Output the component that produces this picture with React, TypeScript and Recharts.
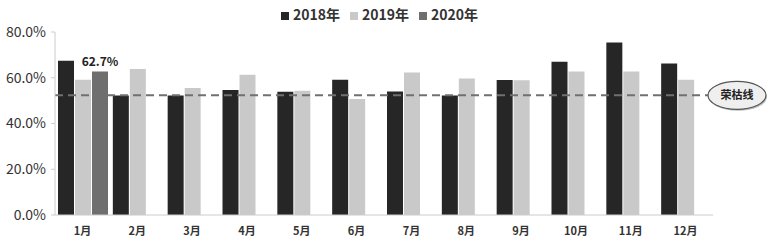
import React from 'react';
import {
  BarChart,
  Bar,
  XAxis,
  YAxis,
  Legend,
  ReferenceLine,
  LabelList,
} from 'recharts';

// 各月数值（%）
const months = ['1月', '2月', '3月', '4月', '5月', '6月', '7月', '8月', '9月', '10月', '11月', '12月'];
const y2018 = [67.4, 52.2, 52.2, 54.6, 53.9, 59.1, 54.0, 52.2, 59.0, 67.0, 75.4, 66.2];
const y2019 = [59.1, 63.8, 55.5, 61.3, 54.3, 50.7, 62.3, 59.7, 58.9, 62.7, 62.7, 59.1];
const y2020: (number | null)[] = [62.7, null, null, null, null, null, null, null, null, null, null, null];
const yTicks = [0, 20, 40, 60, 80];
const boomBust = 52.3;

const FONT = '"Noto Sans CJK SC", "Noto Sans", sans-serif';

const data = months.map((m, i) => ({
  month: m,
  a: y2018[i],
  b: y2019[i],
  c: y2020[i],
}));

// 荣枯线 ellipse tag at the right end of the dashed line
function BoomBustTag(props: any) {
  const { viewBox } = props;
  if (!viewBox) return null;
  const cx = viewBox.x + viewBox.width + 24;
  const cy = viewBox.y;
  return (
    <g>
      <ellipse cx={cx + 1} cy={cy + 1.5} rx={29} ry={14} fill="#bbb" />
      <ellipse cx={cx} cy={cy} rx={29} ry={14} fill="#efefef" stroke="#555" strokeWidth={1.2} />
      <text
        x={cx}
        y={cy + 4}
        textAnchor="middle"
        fontSize={11}
        fontWeight={700}
        fontFamily={FONT}
        fill="#222"
      >
        荣枯线
      </text>
    </g>
  );
}

export default function App() {
  return (
    <div style={{ position: 'absolute', left: 0, top: 0, width: 769, height: 249, background: '#fff' }}>
      <BarChart
        width={769}
        height={249}
        data={data}
        margin={{ top: 12, right: 56, left: 0, bottom: 0 }}
        barCategoryGap={3}
        barGap={1}
      >
        <XAxis
          dataKey="month"
          height={34}
          tickLine={false}
          axisLine={{ stroke: '#ccc' }}
          tick={{ fontSize: 11, fontWeight: 700, fill: '#333', fontFamily: FONT }}
          dy={4}
        />
        <YAxis
          width={55}
          domain={[0, 80]}
          ticks={yTicks}
          tickFormatter={(v: number) => `${v.toFixed(1)}%`}
          axisLine={{ stroke: '#ccc' }}
          tickLine={{ stroke: '#ccc' }}
          tickSize={4}
          tick={{ fontSize: 14, fill: '#333', fontFamily: FONT }}
          dx={-3}
        />
        <Legend
          verticalAlign="top"
          align="center"
          iconType="square"
          iconSize={8}
          wrapperStyle={{ top: 4, left: 28, fontFamily: FONT, fontSize: 14, fontWeight: 600 }}
          formatter={(value: string) => <span style={{ color: '#333' }}>{value}</span>}
        />
        <Bar dataKey="a" name="2018年" fill="#262626" isAnimationActive={false} />
        <Bar dataKey="b" name="2019年" fill="#c9c9c9" isAnimationActive={false} />
        <Bar dataKey="c" name="2020年" fill="#6f6f6f" isAnimationActive={false}>
          <LabelList
            dataKey="c"
            position="top"
            offset={6}
            formatter={(v: any) => (v == null ? '' : `${v}%`)}
            style={{ fontSize: 12, fontWeight: 700, fill: '#222', fontFamily: FONT }}
          />
        </Bar>
        <ReferenceLine
          y={boomBust}
          stroke="#707070"
          strokeWidth={2}
          strokeDasharray="8 5"
          label={<BoomBustTag />}
        />
      </BarChart>
    </div>
  );
}
